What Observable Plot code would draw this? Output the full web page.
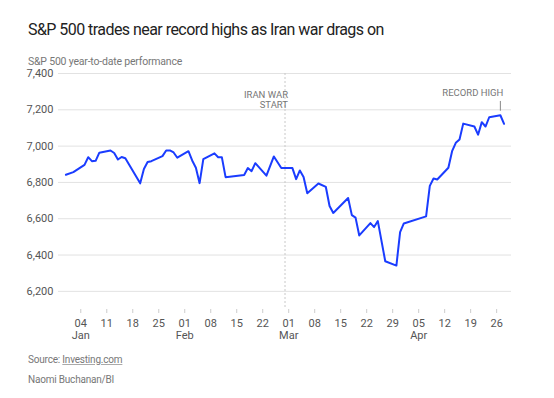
<!DOCTYPE html>
<html>
<head>
<meta charset="utf-8">
<script src="https://cdn.jsdelivr.net/npm/d3@7"></script>
<script src="https://cdn.jsdelivr.net/npm/@observablehq/plot@0.6"></script>
<style>
  html, body { margin: 0; padding: 0; background: #fff; }
  body { width: 554px; height: 398px; position: relative; overflow: hidden; font-family: "Roboto", sans-serif; }
  .title { position: absolute; left: 28px; top: 20px; font-size: 16px; color: #222; letter-spacing: -0.55px; white-space: nowrap; }
  .subtitle { position: absolute; left: 28px; top: 55px; font-size: 10.5px; color: #777; letter-spacing: -0.2px; white-space: nowrap; }
  #chart { position: absolute; left: 0px; top: 68px; }
  .source { position: absolute; left: 28px; top: 354px; font-size: 10px; color: #777; letter-spacing: -0.2px; }
  .source u { text-decoration-color: #aaa; }
  .credit { position: absolute; left: 28px; top: 374px; font-size: 10px; color: #777; letter-spacing: -0.2px; }
</style>
</head>
<body>
<div class="title">S&amp;P 500 trades near record highs as Iran war drags on</div>
<div class="subtitle">S&amp;P 500 year-to-date performance</div>
<div id="chart"></div>
<div class="source">Source: <u>Investing.com</u></div>
<div class="credit">Naomi Buchanan/BI</div>
<script>
const dates = [
  "2025-12-31","2026-01-02","2026-01-05","2026-01-06","2026-01-07","2026-01-08","2026-01-09",
  "2026-01-12","2026-01-13","2026-01-14","2026-01-15","2026-01-16",
  "2026-01-20","2026-01-21","2026-01-22","2026-01-23",
  "2026-01-26","2026-01-27","2026-01-28","2026-01-29","2026-01-30",
  "2026-02-02","2026-02-03","2026-02-04","2026-02-05","2026-02-06",
  "2026-02-09","2026-02-10","2026-02-11","2026-02-12",
  "2026-02-17","2026-02-18","2026-02-19","2026-02-20",
  "2026-02-23","2026-02-25","2026-02-27",
  "2026-03-02","2026-03-03","2026-03-04","2026-03-05","2026-03-06",
  "2026-03-09","2026-03-11","2026-03-12","2026-03-13",
  "2026-03-17","2026-03-18","2026-03-19","2026-03-20",
  "2026-03-23","2026-03-24","2026-03-25","2026-03-27",
  "2026-03-30","2026-03-31","2026-04-01",
  "2026-04-07","2026-04-08","2026-04-09","2026-04-10",
  "2026-04-13","2026-04-14","2026-04-15","2026-04-16","2026-04-17",
  "2026-04-20","2026-04-21","2026-04-22","2026-04-23","2026-04-24",
  "2026-04-27","2026-04-28"
];
const values = [
  6842, 6857, 6897, 6939, 6917, 6919, 6964,
  6976, 6962, 6926, 6940, 6933,
  6795, 6874, 6912, 6917,
  6945, 6976, 6976, 6965, 6936,
  6972, 6921, 6881, 6796, 6928,
  6960, 6939, 6938, 6829,
  6841, 6879, 6862, 6906,
  6837, 6943, 6879,
  6879, 6818, 6866, 6830, 6740,
  6794, 6775, 6670, 6632,
  6714, 6620, 6606, 6508,
  6576, 6554, 6587, 6366,
  6342, 6526, 6574,
  6613, 6781, 6822, 6816,
  6881, 6972, 7018, 7036, 7124,
  7108, 7063, 7132, 7108, 7159,
  7170, 7123
];
const yTicks = [6200, 6400, 6600, 6800, 7000, 7200, 7400];
const xTicks = [
  "2026-01-04","2026-01-11","2026-01-18","2026-01-25",
  "2026-02-01","2026-02-08","2026-02-15","2026-02-22",
  "2026-03-01","2026-03-08","2026-03-15","2026-03-22","2026-03-29",
  "2026-04-05","2026-04-12","2026-04-19","2026-04-26"
];
const xDomain = ["2025-12-29", "2026-04-30"];
const yDomain = [6100, 7400];
const warDate = "2026-02-28";
const warLabel = "IRAN WAR\nSTART";
const warLabelY = 7254;
const recordDate = "2026-04-27";
const recordLabel = "RECORD HIGH";
const recordLabelY = 7292;
const recordTick = [7192, 7246];

const parse = s => new Date(s + "T00:00:00Z");
const data = dates.map((d, i) => ({date: parse(d), value: values[i]}));
const tickDates = xTicks.map(parse);
const fmtDay = d3.utcFormat("%d");
const fmtMon = d3.utcFormat("%b");

const chart = Plot.plot({
  width: 554,
  height: 277,
  marginLeft: 58,
  marginRight: 43,
  marginTop: 5,
  marginBottom: 36,
  style: {fontFamily: "Roboto, sans-serif", fontSize: "11px", color: "#555", background: "transparent", overflow: "visible"},
  x: {type: "utc", domain: xDomain.map(parse), label: null},
  y: {domain: yDomain, label: null},
  marks: [
    Plot.gridY(yTicks, {stroke: "#e2e2e2", strokeOpacity: 1}),
    Plot.axisY(yTicks, {tickSize: 0, tickPadding: 5, tickFormat: d3.format(","), fill: "#555", label: null, letterSpacing: -0.3}),
    Plot.axisX(tickDates, {
      tickSize: 4, tickPadding: 5, stroke: "#ccc", fill: "#555", label: null, lineHeight: 1.1,
      tickFormat: d => fmtDay(d) + (d.getUTCDate() <= 7 ? "\n" + fmtMon(d) : ""),
      letterSpacing: -0.3
    }),
    Plot.ruleX([parse(warDate)], {stroke: "#c8c8c8", strokeDasharray: "2,2"}),
    Plot.text([warLabel], {x: () => parse(warDate), y: () => warLabelY, text: d => d, textAnchor: "end", dx: 3, fill: "#777", fontSize: 9.5, lineHeight: 1.0, letterSpacing: -0.3}),
    Plot.ruleX([parse(recordDate)], {y1: recordTick[0], y2: recordTick[1], stroke: "#888"}),
    Plot.text([recordLabel], {x: () => parse(recordDate), y: () => recordLabelY, text: d => d, textAnchor: "end", dx: 3, fill: "#777", fontSize: 9.5, letterSpacing: -0.3}),
    Plot.lineY(data, {x: "date", y: "value", stroke: "#1a3cff", strokeWidth: 2})
  ]
});
document.getElementById("chart").appendChild(chart);
</script>
</body>
</html>
